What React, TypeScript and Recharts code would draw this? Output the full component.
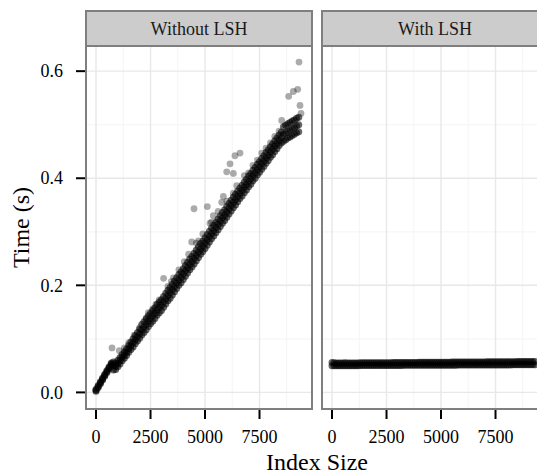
import React from "react";
import { ScatterChart, Scatter, XAxis, YAxis, ReferenceLine } from "recharts";

// ---------- data ----------
const panelTitles = ["Without LSH", "With LSH"];
const xTicks = [0, 2500, 5000, 7500];
const xMinor = [1250, 3750, 6250, 8750];
const yTicks = [0, 0.2, 0.4, 0.6];
const yMinor = [0.1, 0.3, 0.5];

const indexSizes = [
  0, 100, 200, 300, 400, 500, 600, 700, 800, 900,
  1000, 1100, 1200, 1300, 1400, 1500, 1600, 1700, 1800, 1900,
  2000, 2100, 2200, 2300, 2400, 2500, 2600, 2700, 2800, 2900,
  3000, 3100, 3200, 3300, 3400, 3500, 3600, 3700, 3800, 3900,
  4000, 4100, 4200, 4300, 4400, 4500, 4600, 4700, 4800, 4900,
  5000, 5100, 5200, 5300, 5400, 5500, 5600, 5700, 5800, 5900,
  6000, 6100, 6200, 6300, 6400, 6500, 6600, 6700, 6800, 6900,
  7000, 7100, 7200, 7300, 7400, 7500, 7600, 7700, 7800, 7900,
  8000, 8100, 8200, 8300, 8400, 8500, 8600, 8700, 8800, 8900,
  9000, 9100, 9200, 9300,
];

// Without LSH: lower edge, middle and upper edge of the dense band
const timeWithoutLow = [
  0.002, 0.009, 0.016, 0.023, 0.030, 0.037, 0.044, 0.051, 0.042, 0.043,
  0.048, 0.053, 0.059, 0.064, 0.069, 0.075, 0.080, 0.085, 0.091, 0.096,
  0.101, 0.107, 0.112, 0.117, 0.123, 0.128, 0.133, 0.138, 0.144, 0.149,
  0.153, 0.159, 0.165, 0.171, 0.176, 0.182, 0.188, 0.194, 0.200, 0.205,
  0.211, 0.217, 0.223, 0.229, 0.234, 0.240, 0.246, 0.252, 0.258, 0.263,
  0.269, 0.275, 0.281, 0.287, 0.292, 0.298, 0.304, 0.310, 0.316, 0.321,
  0.327, 0.333, 0.339, 0.345, 0.350, 0.356, 0.362, 0.367, 0.373, 0.378,
  0.384, 0.389, 0.395, 0.400, 0.406, 0.411, 0.417, 0.422, 0.428, 0.433,
  0.439, 0.444, 0.450, 0.455, 0.461, 0.466, 0.469, 0.472, 0.475, 0.477,
  0.480, 0.482, 0.485, 0.487,
];
const timeWithoutMid = [
  0.004, 0.011, 0.018, 0.025, 0.032, 0.039, 0.046, 0.053, 0.050, 0.049,
  0.054, 0.059, 0.065, 0.070, 0.075, 0.082, 0.087, 0.093, 0.099, 0.104,
  0.110, 0.117, 0.122, 0.127, 0.133, 0.138, 0.143, 0.148, 0.154, 0.159,
  0.163, 0.169, 0.175, 0.181, 0.186, 0.192, 0.198, 0.204, 0.210, 0.215,
  0.221, 0.227, 0.233, 0.239, 0.244, 0.250, 0.256, 0.262, 0.268, 0.273,
  0.279, 0.285, 0.291, 0.297, 0.302, 0.308, 0.314, 0.320, 0.326, 0.331,
  0.337, 0.343, 0.349, 0.355, 0.360, 0.366, 0.372, 0.377, 0.383, 0.388,
  0.394, 0.399, 0.405, 0.410, 0.416, 0.421, 0.427, 0.432, 0.438, 0.443,
  0.449, 0.454, 0.460, 0.465, 0.471, 0.476, 0.482, 0.485, 0.488, 0.490,
  0.493, 0.495, 0.498, 0.500,
];
const timeWithoutHigh = [
  0.006, 0.013, 0.020, 0.027, 0.034, 0.041, 0.048, 0.055, 0.057, 0.055,
  0.060, 0.065, 0.071, 0.076, 0.081, 0.088, 0.094, 0.100, 0.106, 0.112,
  0.118, 0.127, 0.132, 0.137, 0.143, 0.148, 0.153, 0.158, 0.164, 0.169,
  0.173, 0.179, 0.185, 0.191, 0.196, 0.202, 0.208, 0.214, 0.220, 0.225,
  0.231, 0.237, 0.243, 0.249, 0.254, 0.260, 0.266, 0.272, 0.278, 0.283,
  0.289, 0.295, 0.301, 0.307, 0.312, 0.318, 0.324, 0.330, 0.336, 0.341,
  0.347, 0.353, 0.359, 0.365, 0.370, 0.376, 0.382, 0.387, 0.393, 0.398,
  0.404, 0.409, 0.415, 0.420, 0.426, 0.431, 0.437, 0.442, 0.448, 0.453,
  0.459, 0.464, 0.470, 0.475, 0.481, 0.486, 0.496, 0.499, 0.502, 0.504,
  0.507, 0.509, 0.512, 0.514,
];

// Without LSH: scattered lighter points above the band
const outlierSizes = [
  734, 1070, 1300, 1500, 1750, 2000, 2300, 2400, 2600, 2750,
  2900, 3100, 3300, 3450, 3550, 3800, 4050, 4250, 4390, 4495,
  4600, 4700, 4900, 5106, 5229, 5300, 5382, 5600, 5766, 5841,
  5995, 6000, 6147, 6300, 6300, 6376, 6453, 6606, 6800, 7000,
  7200, 7400, 7600, 7800, 8000, 8200, 8400, 8518, 8839, 9050,
  9252, 9312, 9358, 9404,
];
const outlierTimes = [
  0.083, 0.078, 0.083, 0.093, 0.107, 0.121, 0.139, 0.149, 0.156, 0.165,
  0.173, 0.213, 0.198, 0.207, 0.214, 0.229, 0.244, 0.258, 0.281, 0.343,
  0.279, 0.283, 0.296, 0.347, 0.316, 0.318, 0.330, 0.338, 0.355, 0.366,
  0.412, 0.357, 0.427, 0.409, 0.372, 0.442, 0.386, 0.447, 0.405, 0.410,
  0.424, 0.434, 0.447, 0.456, 0.466, 0.478, 0.488, 0.508, 0.553, 0.562,
  0.566, 0.617, 0.536, 0.521,
];

// With LSH: lower and upper edge of the flat band
const timeWithLow = [
  0.0498, 0.0498, 0.0498, 0.0499, 0.0499, 0.0499, 0.0499, 0.0499, 0.0500, 0.0500,
  0.0500, 0.0500, 0.0500, 0.0501, 0.0501, 0.0501, 0.0501, 0.0501, 0.0502, 0.0502,
  0.0502, 0.0502, 0.0502, 0.0503, 0.0503, 0.0503, 0.0503, 0.0503, 0.0504, 0.0504,
  0.0504, 0.0504, 0.0504, 0.0505, 0.0505, 0.0505, 0.0505, 0.0505, 0.0506, 0.0506,
  0.0506, 0.0506, 0.0506, 0.0507, 0.0507, 0.0507, 0.0507, 0.0507, 0.0508, 0.0508,
  0.0508, 0.0508, 0.0508, 0.0509, 0.0509, 0.0509, 0.0509, 0.0509, 0.0510, 0.0510,
  0.0510, 0.0510, 0.0510, 0.0511, 0.0511, 0.0511, 0.0511, 0.0511, 0.0512, 0.0512,
  0.0512, 0.0512, 0.0512, 0.0513, 0.0513, 0.0513, 0.0513, 0.0513, 0.0514, 0.0514,
  0.0514, 0.0514, 0.0514, 0.0515, 0.0515, 0.0515, 0.0515, 0.0515, 0.0516, 0.0516,
  0.0516, 0.0516, 0.0516, 0.0517,
];
const timeWithHigh = [
  0.0560, 0.0556, 0.0549, 0.0549, 0.0550, 0.0550, 0.0554, 0.0551, 0.0550, 0.0550,
  0.0551, 0.0551, 0.0551, 0.0552, 0.0552, 0.0552, 0.0553, 0.0553, 0.0553, 0.0554,
  0.0554, 0.0554, 0.0555, 0.0555, 0.0555, 0.0556, 0.0556, 0.0556, 0.0557, 0.0557,
  0.0557, 0.0558, 0.0558, 0.0558, 0.0559, 0.0559, 0.0559, 0.0560, 0.0560, 0.0560,
  0.0561, 0.0561, 0.0561, 0.0562, 0.0562, 0.0562, 0.0563, 0.0563, 0.0563, 0.0564,
  0.0564, 0.0564, 0.0565, 0.0565, 0.0565, 0.0566, 0.0566, 0.0566, 0.0567, 0.0567,
  0.0567, 0.0568, 0.0568, 0.0568, 0.0569, 0.0569, 0.0569, 0.0570, 0.0570, 0.0570,
  0.0570, 0.0571, 0.0571, 0.0571, 0.0571, 0.0572, 0.0572, 0.0572, 0.0572, 0.0573,
  0.0573, 0.0573, 0.0574, 0.0574, 0.0574, 0.0575, 0.0575, 0.0575, 0.0576, 0.0576,
  0.0576, 0.0577, 0.0577, 0.0577,
];

// ---------- helpers ----------
const toPoints = (xs: number[], ys: number[]) => xs.map((x, i) => ({ x, y: ys[i] }));

const X_DOMAIN: [number, number] = [-460, 9908];
const Y_DOMAIN: [number, number] = [-0.031, 0.647];
const FONT = '"Liberation Serif", "Times New Roman", Times, serif';
const fontStyle = { fontFamily: FONT } as React.CSSProperties;
const BORDER = "#7f7f7f";

const makeDot = (opacity: number, r: number) => (props: any) => {
  if (props == null || props.cx == null || props.cy == null) return <g />;
  return <circle cx={props.cx} cy={props.cy} r={r} fill="#000" fillOpacity={opacity} />;
};
const bandDot = makeDot(0.6, 3.5);
const lightDot = makeDot(0.33, 3.4);

const gridLines = () => [
  ...xMinor.map((v) => (
    <ReferenceLine key={"xm" + v} x={v} stroke="#f6f6f6" strokeWidth={1.2} />
  )),
  ...yMinor.map((v) => (
    <ReferenceLine key={"ym" + v} y={v} stroke="#f6f6f6" strokeWidth={1.2} />
  )),
  ...xTicks.map((v) => (
    <ReferenceLine key={"xM" + v} x={v} stroke="#e8e8e8" strokeWidth={1.4} />
  )),
  ...yTicks.map((v) => (
    <ReferenceLine key={"yM" + v} y={v} stroke="#e8e8e8" strokeWidth={1.4} />
  )),
];

// tick label renderers (text drawn as real SVG text, positioned by the axis)
const XTick = (props: any) => {
  const { x, y, payload } = props;
  return (
    <text x={x} y={y} dy={12.8} textAnchor="middle" fontSize={18} fill="#000" style={fontStyle}>
      {String(payload.value)}
    </text>
  );
};
const YTick = (props: any) => {
  const { x, y, payload } = props;
  return (
    <text x={x} y={y} dy={6.2} textAnchor="end" fontSize={18} fill="#000" style={fontStyle}>
      {Number(payload.value).toFixed(1)}
    </text>
  );
};

const xAxisEl = (
  <XAxis
    type="number"
    dataKey="x"
    domain={X_DOMAIN}
    ticks={xTicks}
    allowDataOverflow
    height={64}
    tickSize={10}
    tickMargin={11}
    axisLine={false}
    tickLine={{ stroke: "#000", strokeWidth: 2 }}
    tick={XTick}
    interval={0}
  />
);

export default function App() {
  const leftSeries = [
    toPoints(indexSizes, timeWithoutHigh),
    toPoints(indexSizes, timeWithoutMid),
    toPoints(indexSizes, timeWithoutLow),
  ];
  const outliers = toPoints(outlierSizes, outlierTimes);
  const rightSeries = [toPoints(indexSizes, timeWithHigh), toPoints(indexSizes, timeWithLow)];

  return (
    <div
      style={{
        position: "absolute",
        left: 0,
        top: 0,
        width: 537,
        height: 473,
        overflow: "hidden",
        background: "#fff",
        fontFamily: FONT,
      }}
    >
      <div style={{ position: "absolute", left: 0, top: 0 }}>
        <ScatterChart width={320} height={473} margin={{ top: 46, right: 8, bottom: 0, left: 0 }}>
          {gridLines()}
          {xAxisEl}
          <YAxis
            type="number"
            dataKey="y"
            domain={Y_DOMAIN}
            ticks={yTicks}
            allowDataOverflow
            width={86}
            tickSize={10}
            tickMargin={13}
            axisLine={false}
            tickLine={{ stroke: "#000", strokeWidth: 2 }}
            tick={YTick}
            interval={0}
          />
          <Scatter data={outliers} shape={lightDot} isAnimationActive={false} />
          {leftSeries.map((d, i) => (
            <Scatter key={"l" + i} data={d} shape={bandDot} isAnimationActive={false} />
          ))}
        </ScatterChart>
      </div>

      <div style={{ position: "absolute", left: 314, top: 0 }}>
        <ScatterChart width={240} height={473} margin={{ top: 46, right: 6, bottom: 0, left: 8 }}>
          {gridLines()}
          {xAxisEl}
          <YAxis type="number" dataKey="y" domain={Y_DOMAIN} allowDataOverflow hide />
          {rightSeries.map((d, i) => (
            <Scatter key={"r" + i} data={d} shape={bandDot} isAnimationActive={false} />
          ))}
        </ScatterChart>
      </div>

      <svg
        width={537}
        height={473}
        style={{ position: "absolute", left: 0, top: 0, pointerEvents: "none" }}
      >
        {[86, 322].map((px, i) => (
          <g key={"p" + i}>
            <rect x={px} y={11} width={226} height={35} fill="#cccccc" stroke={BORDER} strokeWidth={2} />
            <rect x={px} y={46} width={226} height={363} fill="none" stroke={BORDER} strokeWidth={2} />
            <text x={px + 113} y={34.5} textAnchor="middle" fontSize={18} fill="#1a1a1a" style={fontStyle}>
              {panelTitles[i]}
            </text>
          </g>
        ))}
        <text x={317} y={469.5} textAnchor="middle" fontSize={24} fill="#000" style={fontStyle}>
          Index Size
        </text>
        <text
          transform="translate(29,227.5) rotate(-90)"
          textAnchor="middle"
          fontSize={24}
          fill="#000"
          style={fontStyle}
        >
          Time (s)
        </text>
      </svg>
    </div>
  );
}
